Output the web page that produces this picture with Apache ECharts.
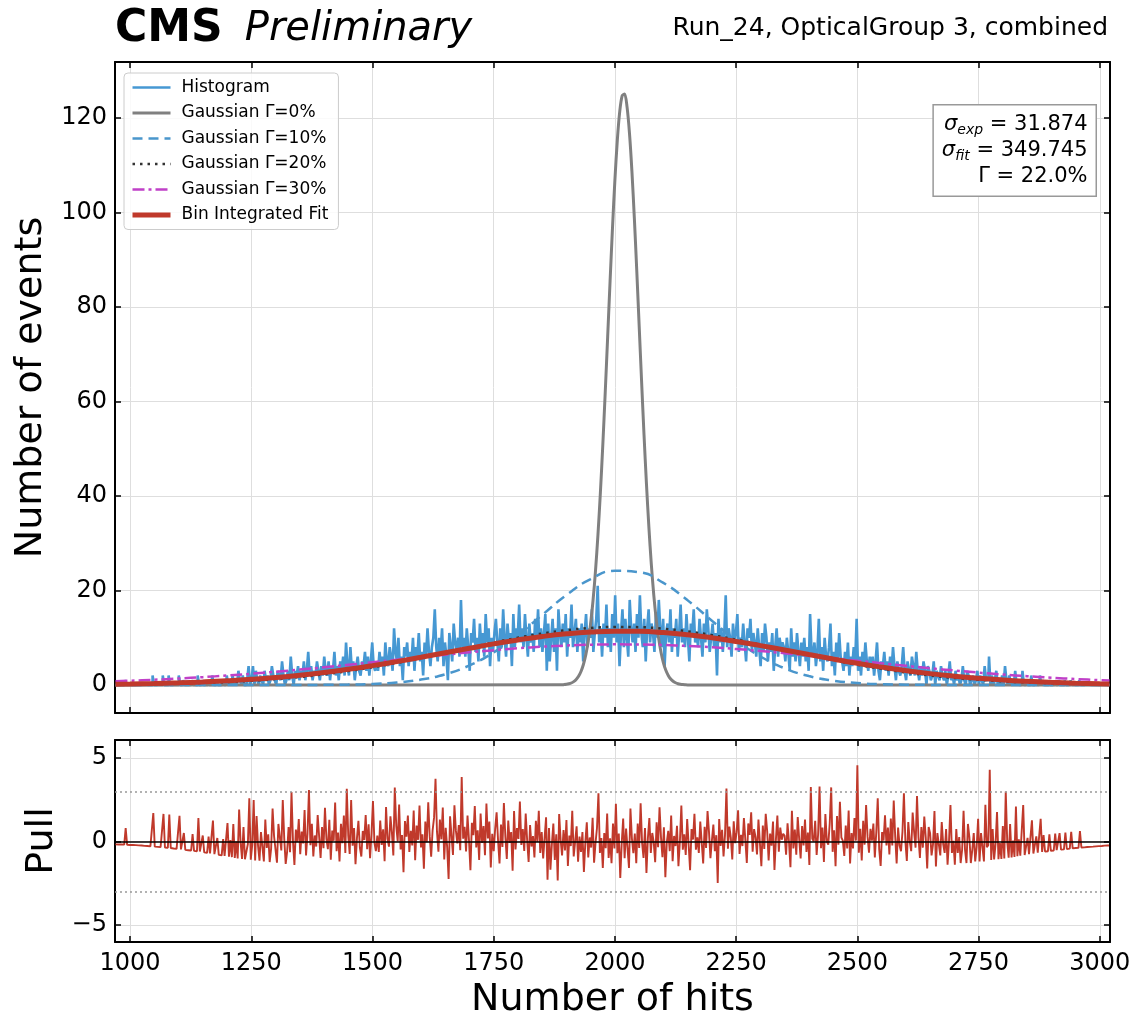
<!DOCTYPE html>
<html>
<head>
<meta charset="utf-8">
<title>Run_24 OpticalGroup 3</title>
<script src="https://cdn.jsdelivr.net/npm/echarts@6/dist/echarts.min.js"></script>
<style>
	html, body { margin: 0; padding: 0; background: #fff; }
	#chart { width: 1137px; height: 1016px; }
</style>
</head>
<body>
<div id="chart"></div>
<script>
// histogram: one sampled bin every 3 hits from 970, each row is 60 hits
const binStart = 970;
const binStep = 3;
const histCounts = [
	0,0,0,0,0,0,0,1,0,0,0,0,0,0,0,0,0,0,0,0,
	0,0,0,0,0,0,2,0,0,0,0,0,0,2,0,0,0,2,0,0,
	0,0,0,0,2,0,0,1,0,0,0,0,0,1,0,0,0,2,0,0,
	1,0,0,0,1,0,0,2,0,0,1,0,0,0,1,0,0,2,0,1,
	0,2,0,1,0,3,1,0,2,0,0,1,4,0,1,4,0,3,1,0,
	2,1,0,3,1,2,0,1,4,2,1,0,3,2,1,5,2,0,1,3,
	1,6,2,0,3,2,4,1,3,2,5,1,3,7,2,4,1,3,2,5,
	3,1,4,2,6,3,2,5,1,4,3,7,2,4,1,5,3,6,2,9,
	4,2,8,3,5,1,4,6,3,2,5,4,7,3,6,2,5,9,4,3,
	5,3,7,4,6,2,9,5,4,8,6,3,12,7,5,10,4,6,1,8,
	6,9,4,7,5,10,3,8,6,11,5,7,2,9,6,12,7,4,8,10,
	16,8,5,10,7,12,4,9,6,1,11,8,5,13,9,7,10,6,18,8,
	10,6,12,8,3,11,9,14,7,10,5,13,8,11,6,15,9,12,4,10,
	7,11,14,9,5,12,8,16,10,6,13,9,11,4,15,8,12,10,17,9,
	12,8,15,10,6,13,9,11,7,14,10,16,8,12,7,11,15,3,13,5,
	10,14,7,12,3,16,11,8,13,9,15,6,12,10,17,8,11,14,7,12,
	9,13,5,11,15,8,12,10,16,7,11,14,21,9,12,6,13,10,17,8,
	12,7,15,10,19,9,13,4,11,16,8,14,10,6,18,12,9,13,7,15,
	10,19,11,8,14,5,12,16,9,13,11,7,15,10,18,12,8,14,4,11,
	13,9,16,7,12,10,14,6,11,17,9,12,8,15,10,5,13,11,16,9,
	11,8,14,10,6,13,9,16,12,7,10,13,8,11,2,14,9,12,7,11,
	19,8,12,10,6,13,9,11,15,7,10,8,13,9,5,12,10,14,7,11,
	9,6,12,8,4,11,7,13,10,5,9,7,11,3,8,12,6,10,8,9,
	8,5,10,7,3,12,6,9,5,11,7,4,9,6,10,5,8,3,15,7,
	6,9,4,7,14,5,8,3,10,6,5,8,13,4,7,2,9,5,11,6,
	5,3,7,4,9,2,6,4,8,5,14,3,6,2,7,4,9,5,3,6,
	4,6,2,5,9,3,1,5,4,7,3,5,2,6,3,8,4,1,5,3,
	2,4,8,3,1,5,3,2,6,4,2,7,3,1,4,2,5,3,0,4,
	3,1,2,5,0,3,2,1,4,2,1,3,0,2,5,1,2,0,3,1,
	2,0,1,4,1,0,3,2,0,1,2,0,1,3,0,2,1,0,4,1,
	1,6,0,2,0,1,3,0,1,0,2,0,4,1,0,2,0,1,0,3,
	0,1,0,0,3,0,0,1,0,0,2,0,0,1,0,0,2,0,1,0,
	0,0,1,0,0,0,1,0,0,1,0,0,0,1,0,0,0,1,0,0,
	0,0,0,1,0,0,0,0,0,0,0,0,0,0,0,0,0,0,0,0,
	0,0,0,0
];
const pullValues = [
	-0.17,-0.17,-0.18,-0.18,-0.18,-0.19,-0.19,0.81,-0.2,-0.2,-0.21,-0.21,-0.21,-0.22,-0.22,-0.23,-0.23,-0.24,-0.24,-0.25,
	-0.26,-0.27,-0.27,-0.28,-0.29,-0.29,1.7,-0.31,-0.31,-0.32,-0.33,-0.34,-0.34,1.65,-0.36,-0.37,-0.37,1.62,-0.39,-0.4,
	-0.42,-0.43,-0.44,-0.45,1.54,-0.47,-0.48,0.51,-0.5,-0.51,-0.52,-0.53,-0.54,0.45,-0.56,-0.57,-0.58,1.41,-0.6,-0.61,
	0.36,-0.65,-0.67,-0.68,0.3,-0.71,-0.73,1.26,-0.76,-0.77,0.21,-0.8,-0.82,-0.83,0.15,-0.86,-0.88,1.11,-0.91,0.08,
	-0.94,1.04,-0.98,0,-1.01,1.92,-0.06,-1.04,0.86,-1.06,-1.07,-0.15,2.59,-1.09,-0.2,2.49,-1.13,1.52,-0.26,-1.15,
	0.56,-0.32,-1.19,1.31,-0.38,0.43,-1.23,-0.43,1.98,0.33,-0.48,-1.27,1.05,0.25,-0.54,2.48,0.19,-1.34,-0.6,0.87,
	-0.64,2.97,0.04,-1.41,0.71,-0.03,1.34,-0.76,0.59,-0.12,1.89,-0.83,0.48,3.09,-0.22,1.06,-0.9,0.36,-0.3,1.58,
	0.3,-0.98,0.86,-0.4,2.02,0.16,-0.46,1.3,-1.09,0.65,0.04,2.34,-0.58,0.54,-1.19,1.06,-0.1,1.56,-0.69,3.16,
	0.37,-0.74,2.48,-0.25,0.8,-1.36,0.21,1.24,-0.36,-0.9,0.63,0.09,1.59,-0.46,1.03,-1.0,0.47,2.43,-0.07,-0.58,
	0.35,-0.63,1.26,-0.2,0.73,-1.18,2.07,0.18,-0.31,1.51,0.56,-0.83,3.23,0.94,0.01,2.22,-0.48,0.39,-1.84,1.22,
	0.29,1.56,-0.62,0.64,-0.23,1.85,-1.12,0.95,0.1,2.15,-0.36,0.43,-1.63,1.2,-0.04,2.35,0.32,-0.91,0.67,1.43,
	3.76,0.59,-0.61,1.32,0.13,2.03,-1.07,0.82,-0.34,-2.25,1.51,0.35,-0.8,2.17,0.65,-0.11,0.98,-0.52,3.86,0.17,
	0.88,-0.59,1.55,0.09,-1.72,1.12,0.38,2.13,-0.36,0.67,-1.1,1.68,-0.09,0.93,-0.82,2.27,0.18,1.19,-1.56,0.46,
	-0.58,0.76,1.75,0.05,-1.31,1.02,-0.33,2.31,0.3,-1.04,1.25,-0.08,0.56,-1.75,1.82,-0.47,0.81,0.15,2.39,-0.21,
	0.74,-0.56,1.67,0.06,-1.23,0.98,-0.3,0.32,-0.95,1.24,-0.03,1.84,-0.68,0.56,-1.02,0.22,1.45,-2.29,0.8,-1.69,
	-0.15,1.07,-1.1,0.43,-2.34,1.64,0.1,-0.83,0.69,-0.54,1.28,-1.47,0.35,-0.27,1.84,-0.89,0.01,0.91,-1.21,0.29,
	-0.62,0.57,-1.83,-0.04,1.15,-0.95,0.24,-0.36,1.42,-1.27,-0.08,0.81,2.89,-0.68,0.21,-1.58,0.5,-0.4,1.68,-0.99,
	0.19,-1.3,1.08,-0.41,2.26,-0.7,0.48,-2.19,-0.11,1.37,-1.0,0.78,-0.41,-1.59,1.97,0.19,-0.7,0.48,-1.3,1.08,
	-0.39,2.29,-0.09,-0.98,0.8,-1.88,0.21,1.4,-0.68,0.51,-0.04,-1.24,1.15,-0.34,2.05,0.25,-0.94,0.85,-2.14,-0.04,
	0.64,-0.58,1.55,-1.18,0.33,-0.27,0.94,-1.48,0.03,2.15,-0.49,0.43,-0.8,1.35,-0.18,-1.72,0.74,0.12,1.66,-0.49,
	0.25,-0.69,1.19,-0.06,-1.32,0.88,-0.38,1.82,0.56,-1.0,0.06,1.02,-0.58,0.38,-2.49,1.34,-0.26,0.7,-0.89,0.38,
	3.18,-0.43,0.89,0.23,-1.08,1.21,-0.1,0.56,1.87,-0.75,0.4,-0.27,1.41,0.07,-1.28,1.08,0.4,1.75,-0.61,0.74,
	0.26,-0.78,1.31,-0.09,-1.48,0.96,-0.44,1.66,0.61,-1.13,0.47,-0.25,1.19,-1.7,0.11,1.55,-0.61,0.83,0.11,0.47,
	0.34,-0.79,1.09,-0.04,-1.54,1.84,-0.41,0.71,-0.79,1.47,0.16,-1.01,0.93,-0.23,1.32,-0.62,0.54,-1.4,3.27,0.16,
	0.01,1.24,-0.81,0.42,3.29,-0.4,0.83,-1.22,1.65,0.01,-0.19,1.09,3.24,-0.62,0.67,-1.48,1.52,-0.19,2.38,0.24,
	0.05,-0.86,0.95,-0.41,1.86,-1.31,0.5,-0.41,1.4,0.05,4.57,-0.67,0.76,-1.14,1.24,-0.19,2.19,0.29,-0.67,0.76,
	0.05,1.07,-0.96,0.56,2.59,-0.46,-1.47,0.56,0.05,1.57,-0.24,0.83,-0.78,1.37,-0.24,2.45,0.3,-1.32,0.83,-0.24,
	-0.58,0.58,2.89,0,-1.16,1.16,0,-0.58,1.73,0.58,-0.37,2.73,0.25,-0.99,0.87,-0.37,1.49,0.25,-1.61,0.87,
	0.5,-0.83,-0.17,1.83,-1.5,0.5,-0.17,-0.83,1.17,-0.17,-0.68,0.75,-1.39,0.04,2.18,-0.68,0.04,-1.39,0.75,-0.68,
	0.27,-1.29,-0.51,1.84,-0.51,-1.29,1.05,0.27,-1.29,-0.51,0.51,-1.19,-0.34,1.36,-1.19,0.51,-0.34,-1.19,2.2,-0.34,
	-0.22,4.3,-1.1,0.74,-1.08,-0.14,1.76,-1.06,-0.09,-1.04,0.93,-1.02,2.99,0.01,-0.97,1.04,-0.95,0.06,-0.92,2.09,
	-0.88,0.13,-0.85,-0.84,2.18,-0.81,-0.79,0.22,-0.76,-0.75,1.27,-0.72,-0.7,0.31,-0.67,-0.66,1.36,-0.63,0.39,-0.6,
	-0.59,-0.58,0.43,-0.56,-0.55,-0.54,0.47,-0.52,-0.51,0.5,-0.49,-0.48,-0.47,0.54,-0.45,-0.44,-0.43,0.58,-0.41,-0.4,
	-0.39,-0.38,-0.38,0.63,-0.36,-0.36,-0.35,-0.34,-0.33,-0.33,-0.32,-0.31,-0.31,-0.3,-0.29,-0.29,-0.28,-0.27,-0.27,-0.26,
	-0.25,-0.25,-0.24,-0.24
];

// smooth model curves, read every 50 hits
const curveHits = [
	970, 1000, 1050, 1100, 1150, 1200, 1250, 1300, 1350, 1400, 1450,
	1500, 1550, 1600, 1650, 1700, 1750, 1800, 1850, 1900, 1950,
	2000, 2050, 2100, 2150, 2200, 2250, 2300, 2350, 2400, 2450,
	2500, 2550, 2600, 2650, 2700, 2750, 2800, 2850, 2900, 2950,
	3000, 3020
];
const fitValues = [
	0.169, 0.214, 0.314, 0.451, 0.636, 0.879, 1.192, 1.586, 2.07, 2.65, 3.326,
	4.097, 4.95, 5.866, 6.818, 7.774, 8.695, 9.538, 10.263, 10.833, 11.215,
	11.39, 11.346, 11.087, 10.626, 9.99, 9.212, 8.333, 7.394, 6.436, 5.494,
	4.6, 3.779, 3.045, 2.405, 1.865, 1.418, 1.058, 0.774, 0.555, 0.391,
	0.27, 0.231
];
const gauss10Values = [
	0, 0, 0, 0, 0, 0, 0, 0, 0, 0.03, 0.086,
	0.222, 0.526, 1.141, 2.27, 4.139, 6.911, 10.575, 14.826, 19.045, 22.41,
	24.16, 23.87, 21.6, 17.91, 13.61, 9.47, 6.04, 3.53, 1.89, 0.925,
	0.416, 0.171, 0.065, 0.02, 0, 0, 0, 0, 0, 0,
	0, 0
];
const gauss20Values = [
	0.092, 0.122, 0.189, 0.289, 0.43, 0.627, 0.893, 1.244, 1.695, 2.258, 2.941,
	3.747, 4.667, 5.684, 6.77, 7.884, 8.979, 9.999, 10.887, 11.592, 12.069,
	12.29, 12.233, 11.908, 11.336, 10.551, 9.603, 8.547, 7.438, 6.329, 5.267,
	4.285, 3.41, 2.653, 2.018, 1.502, 1.092, 0.777, 0.54, 0.368, 0.245,
	0.159, 0.133
];
const gauss30Values = [
	0.78, 0.894, 1.111, 1.366, 1.661, 1.998, 2.377, 2.797, 3.254, 3.745, 4.264,
	4.801, 5.348, 5.89, 6.417, 6.915, 7.37, 7.769, 8.1, 8.353, 8.521,
	8.596, 8.577, 8.464, 8.263, 7.977, 7.617, 7.194, 6.721, 6.209, 5.674,
	5.129, 4.585, 4.054, 3.546, 3.067, 2.624, 2.221, 1.858, 1.539, 1.259,
	1.02, 0.935
];

// the narrow Γ=0% peak needs a finer read
const gauss0Hits = [
	970,
	1890, 1895, 1900, 1905, 1910, 1915, 1920, 1925, 1930, 1935,
	1940, 1945, 1950, 1955, 1960, 1965, 1970, 1975, 1980, 1985,
	1990, 1995, 2000, 2005, 2010, 2015, 2020, 2025, 2030, 2035,
	2040, 2045, 2050, 2055, 2060, 2065, 2070, 2075, 2080, 2085,
	2090, 2095, 2100, 2105, 2110, 2115, 2120, 2125, 2130, 2135,
	2140, 2145, 2150,
	3020
];
const gauss0Values = [
	0,
	0.04, 0.08, 0.14, 0.25, 0.42, 0.71, 1.15, 1.84, 2.86, 4.34,
	6.42, 9.29, 13.11, 18.04, 24.25, 31.79, 40.68, 50.8, 61.91, 73.63,
	85.44, 96.78, 106.97, 115.38, 121.44, 124.75, 125.06, 122.34, 116.79, 108.81,
	98.92, 87.77, 76.0, 64.22, 52.95, 42.62, 33.47, 25.65, 19.17, 14.0,
	9.97, 6.93, 4.7, 3.11, 2.01, 1.27, 0.78, 0.47, 0.27, 0.16,
	0.09, 0.05, 0.02,
	0
];

const hitTicks = [1000, 1250, 1500, 1750, 2000, 2250, 2500, 2750, 3000];
const eventTicks = [0, 20, 40, 60, 80, 100, 120];
const pullTicks = [-5, 0, 5];
const pullRefLines = [0, 3, -3];

const FONT = 'DejaVu Sans';
const HIST_BLUE = '#4698d3';
const DASH_BLUE = '#4a96cc';
const FIT_RED = '#c0392b';

function pairs(xs, ys) {
	return ys.map((y, i) => [xs[i], y]);
}

function plainLabel(v) {
	return v < 0 ? '\u2212' + Math.abs(v) : String(v);
}

const binHits = histCounts.map((_, i) => binStart + i * binStep);

function frameAxis(extra) {
	return Object.assign({
		type: 'value',
		axisLine: { show: true, onZero: false, lineStyle: { color: '#000', width: 2 } },
		axisLabel: { show: false },
		splitLine: { show: false }
	}, extra);
}

function ticks(values) {
	return { show: true, inside: true, length: 6, customValues: values, lineStyle: { color: '#000', width: 1.5 } };
}

function labels(values, margin) {
	return { show: true, customValues: values, margin: margin, formatter: plainLabel, fontSize: 24, color: '#000', fontFamily: FONT };
}

const gridLine = { show: true, lineStyle: { color: '#dedede', width: 1 } };
const nameFont = { fontSize: 38, color: '#000', fontFamily: FONT };
const hitRange = { min: 969, max: 3021 };

const option = {
	animation: false,
	textStyle: { fontFamily: FONT },
	grid: [
		{ left: 115, right: 27, top: 62, height: 651, containLabel: false, outerBoundsMode: 'none' },
		{ left: 115, right: 27, top: 740, height: 202, containLabel: false, outerBoundsMode: 'none' }
	],
	xAxis: [
		frameAxis(Object.assign({ gridIndex: 0, position: 'bottom', axisTick: ticks(hitTicks), splitLine: gridLine }, hitRange)),
		frameAxis(Object.assign({ gridIndex: 0, position: 'top', axisTick: ticks(hitTicks) }, hitRange)),
		frameAxis(Object.assign({
			gridIndex: 1, position: 'bottom', axisTick: ticks(hitTicks), splitLine: gridLine,
			axisLabel: labels(hitTicks, 10),
			name: 'Number of hits', nameLocation: 'middle', nameGap: 39, nameTextStyle: nameFont
		}, hitRange)),
		frameAxis(Object.assign({ gridIndex: 1, position: 'top', axisTick: ticks(hitTicks) }, hitRange))
	],
	yAxis: [
		frameAxis({
			gridIndex: 0, position: 'left', min: -5.93, max: 131.85,
			axisTick: ticks(eventTicks), splitLine: gridLine,
			axisLabel: labels(eventTicks, 8),
			name: 'Number of events', nameLocation: 'middle', nameRotate: 90, nameGap: 57, nameTextStyle: nameFont
		}),
		frameAxis({ gridIndex: 0, position: 'right', min: -5.93, max: 131.85, axisTick: ticks(eventTicks) }),
		frameAxis({
			gridIndex: 1, position: 'left', min: -6.02, max: 6.08,
			axisTick: ticks(pullTicks), splitLine: gridLine,
			axisLabel: labels(pullTicks, 8),
			name: 'Pull', nameLocation: 'middle', nameRotate: 90, nameGap: 39, nameTextStyle: nameFont
		}),
		frameAxis({ gridIndex: 1, position: 'right', min: -6.02, max: 6.08, axisTick: ticks(pullTicks) })
	],
	legend: {
		data: ['Histogram', 'Gaussian \u0393=0%', 'Gaussian \u0393=10%', 'Gaussian \u0393=20%', 'Gaussian \u0393=30%', 'Bin Integrated Fit'],
		orient: 'vertical',
		left: 124,
		top: 73,
		itemWidth: 38,
		itemHeight: 14,
		itemGap: 8.5,
		padding: [6, 10, 6, 6],
		selectedMode: false,
		backgroundColor: 'rgba(255,255,255,0.85)',
		borderColor: '#cccccc',
		borderWidth: 1,
		borderRadius: 4,
		itemStyle: { opacity: 0 },
		lineStyle: { width: 'inherit' },
		textStyle: { fontSize: 17, color: '#000', fontFamily: FONT, padding: [0, 0, 0, 6] }
	},
	graphic: [
		{
			type: 'text', x: 115, y: 30,
			style: {
				text: '{cms|CMS}{pre|Preliminary}',
				verticalAlign: 'middle',
				rich: {
					cms: { fontFamily: FONT, fontWeight: 'bold', fontSize: 44, fill: '#000' },
					pre: { fontFamily: FONT, fontStyle: 'italic', fontSize: 40, fill: '#000', padding: [0, 0, 0, 22] }
				}
			}
		},
		{
			type: 'text', x: 1108, y: 28,
			style: {
				text: 'Run_24, OpticalGroup 3, combined',
				font: '25px "DejaVu Sans"', fill: '#000', align: 'right', verticalAlign: 'middle'
			}
		},
		{
			type: 'text', right: 40, top: 104, z: 10,
			style: {
				text: '{s|\u03c3}{sub|exp}{t| = 31.874}\n{s|\u03c3}{sub|fit}{t| = 349.745}\n{t|\u0393 = 22.0%}',
				align: 'right',
				backgroundColor: '#fff',
				borderColor: '#999',
				borderWidth: 1.5,
				padding: [6, 8, 6, 8],
				rich: {
					s: { fontFamily: FONT, fontStyle: 'italic', fontSize: 21, lineHeight: 26, align: 'right', fill: '#000' },
					sub: { fontFamily: FONT, fontStyle: 'italic', fontSize: 14, align: 'right', verticalAlign: 'bottom', fill: '#000' },
					t: { fontFamily: FONT, fontSize: 21, lineHeight: 26, align: 'right', fill: '#000' }
				}
			}
		}
	],
	series: [
		{
			name: 'Histogram', type: 'line', xAxisIndex: 0, yAxisIndex: 0,
			data: pairs(binHits, histCounts), step: 'middle', symbol: 'none', silent: true,
			itemStyle: { color: HIST_BLUE }, lineStyle: { color: HIST_BLUE, width: 2.6 }
		},
		{
			name: 'Gaussian \u0393=0%', type: 'line', xAxisIndex: 0, yAxisIndex: 0,
			data: pairs(gauss0Hits, gauss0Values), smooth: 0.3, symbol: 'none', silent: true,
			itemStyle: { color: '#808080' }, lineStyle: { color: '#808080', width: 3 }
		},
		{
			name: 'Gaussian \u0393=10%', type: 'line', xAxisIndex: 0, yAxisIndex: 0,
			data: pairs(curveHits, gauss10Values), smooth: true, symbol: 'none', silent: true,
			itemStyle: { color: DASH_BLUE }, lineStyle: { color: DASH_BLUE, width: 2.5, type: [10, 6] }
		},
		{
			name: 'Gaussian \u0393=20%', type: 'line', xAxisIndex: 0, yAxisIndex: 0,
			data: pairs(curveHits, gauss20Values), smooth: true, symbol: 'none', silent: true,
			itemStyle: { color: '#333333' }, lineStyle: { color: '#333333', width: 2.5, type: [2.5, 5] }
		},
		{
			name: 'Gaussian \u0393=30%', type: 'line', xAxisIndex: 0, yAxisIndex: 0,
			data: pairs(curveHits, gauss30Values), smooth: true, symbol: 'none', silent: true,
			itemStyle: { color: '#c040c8' }, lineStyle: { color: '#c040c8', width: 2.5, type: [12, 4, 3, 4] }
		},
		{
			name: 'Bin Integrated Fit', type: 'line', xAxisIndex: 0, yAxisIndex: 0,
			data: pairs(curveHits, fitValues), smooth: true, symbol: 'none', silent: true,
			itemStyle: { color: FIT_RED }, lineStyle: { color: FIT_RED, width: 5 }
		},
		{
			name: 'Pull', type: 'line', xAxisIndex: 2, yAxisIndex: 2,
			data: pairs(binHits, pullValues), symbol: 'none', silent: true,
			itemStyle: { color: FIT_RED }, lineStyle: { color: FIT_RED, width: 1.9 },
			markLine: {
				silent: true, symbol: 'none', label: { show: false },
				data: pullRefLines.map(v => ({
					yAxis: v,
					lineStyle: v === 0
						? { color: '#000', width: 1.5, type: 'solid' }
						: { color: '#999', width: 1.5, type: [2, 3] }
				}))
			}
		}
	]
};

const chart = echarts.init(document.getElementById('chart'), null, { renderer: 'canvas' });
chart.setOption(option);
</script>
</body>
</html>
